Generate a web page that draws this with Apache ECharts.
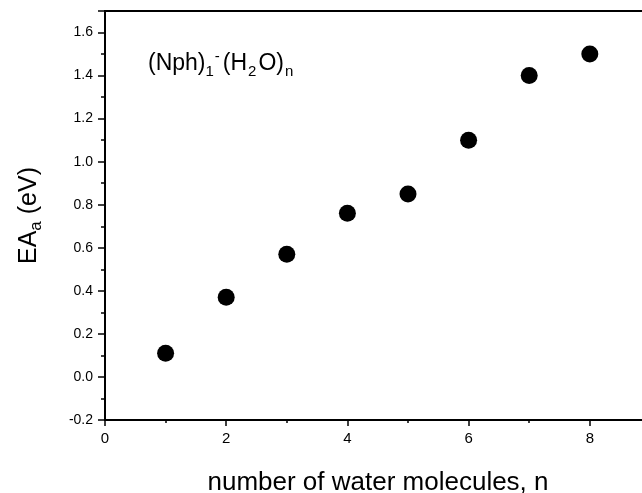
<!DOCTYPE html>
<html>
<head>
<meta charset="utf-8">
<script src="https://cdn.jsdelivr.net/npm/echarts@6/dist/echarts.min.js"></script>
<style>
  html, body { margin: 0; background: #fff; overflow: hidden; }
  /* the plot runs past the right edge of the figure, so the canvas is wider than the window */
  #chart { width: 720px; height: 493px; }
</style>
</head>
<body>
<div id="chart"></div>
<script>
// data
const waterMolecules = [1, 2, 3, 4, 5, 6, 7, 8];
const eaValues = [0.11, 0.37, 0.57, 0.76, 0.85, 1.10, 1.40, 1.50];
const xRange = [0, 10];
const yRange = [-0.2, 1.7];
const xStep = 2;
const yStep = 0.2;

const font = "'Liberation Sans', Arial, sans-serif";
const myChart = echarts.init(document.getElementById('chart'));

const points = waterMolecules.map((n, i) => [n, eaValues[i]]);

const option = {
  animation: false,
  backgroundColor: '#fff',
  title: {
    left: 143,
    top: 44,
    text: '{m|(Nph)}{sub|1}{sup|-}{a|(H}{sub|2}{a|O)}{sub|n}',
    textStyle: {
      fontWeight: 'normal',
      rich: {
        m: { fontFamily: font, fontSize: 23, fontWeight: 'normal', color: '#000', lineHeight: 30 },
        a: { fontFamily: font, fontSize: 23, fontWeight: 'normal', color: '#000', lineHeight: 30, padding: [0, 1, 0, 2] },
        sub: { fontFamily: font, fontSize: 15, fontWeight: 'normal', color: '#000', lineHeight: 20, verticalAlign: 'bottom' },
        sup: { fontFamily: font, fontSize: 15, fontWeight: 'normal', color: '#000', lineHeight: 2, verticalAlign: 'top', padding: [0, 1, 0, 1] }
      }
    }
  },
  grid: {
    left: 105,
    top: 11,
    right: 9,
    bottom: 73,
    outerBoundsMode: 'none',
    show: true,
    borderColor: '#000',
    borderWidth: 2,
    backgroundColor: 'transparent'
  },
  xAxis: {
    type: 'value',
    min: xRange[0],
    max: xRange[1],
    interval: xStep,
    name: 'number of water molecules, n',
    nameLocation: 'middle',
    nameGap: 50,
    nameTextStyle: {
      fontFamily: font,
      fontSize: 26,
      color: '#000',
      padding: [0, 60, 0, 0]
    },
    axisLine: { onZero: false, lineStyle: { color: '#000', width: 2 } },
    axisTick: { length: 6, lineStyle: { color: '#000', width: 1.5 } },
    minorTick: { show: true, splitNumber: 2, length: 3, lineStyle: { color: '#000', width: 1.5 } },
    axisLabel: { fontFamily: font, fontSize: 15, color: '#000', margin: 11 },
    splitLine: { show: false }
  },
  yAxis: {
    type: 'value',
    min: yRange[0],
    max: yRange[1],
    interval: yStep,
    name: '{m|EA}{sub|a}{m| (eV)}',
    nameLocation: 'middle',
    nameGap: 60,
    nameTextStyle: {
      rich: {
        m: { fontFamily: font, fontSize: 25, color: '#000', lineHeight: 32 },
        sub: { fontFamily: font, fontSize: 17, color: '#000', lineHeight: 17, verticalAlign: 'bottom' }
      }
    },
    axisLine: { onZero: false, lineStyle: { color: '#000', width: 2 } },
    axisTick: { length: 7, lineStyle: { color: '#000', width: 1.5 } },
    minorTick: { show: true, splitNumber: 2, length: 4, lineStyle: { color: '#000', width: 1.5 } },
    axisLabel: {
      fontFamily: font,
      fontSize: 14,
      color: '#000',
      margin: 12,
      showMaxLabel: false,
      formatter: v => v.toFixed(1)
    },
    splitLine: { show: false }
  },
  series: [
    {
      type: 'scatter',
      data: points,
      symbol: 'circle',
      symbolSize: 17,
      itemStyle: { color: '#000', opacity: 1 }
    }
  ]
};

myChart.setOption(option);
</script>
</body>
</html>
